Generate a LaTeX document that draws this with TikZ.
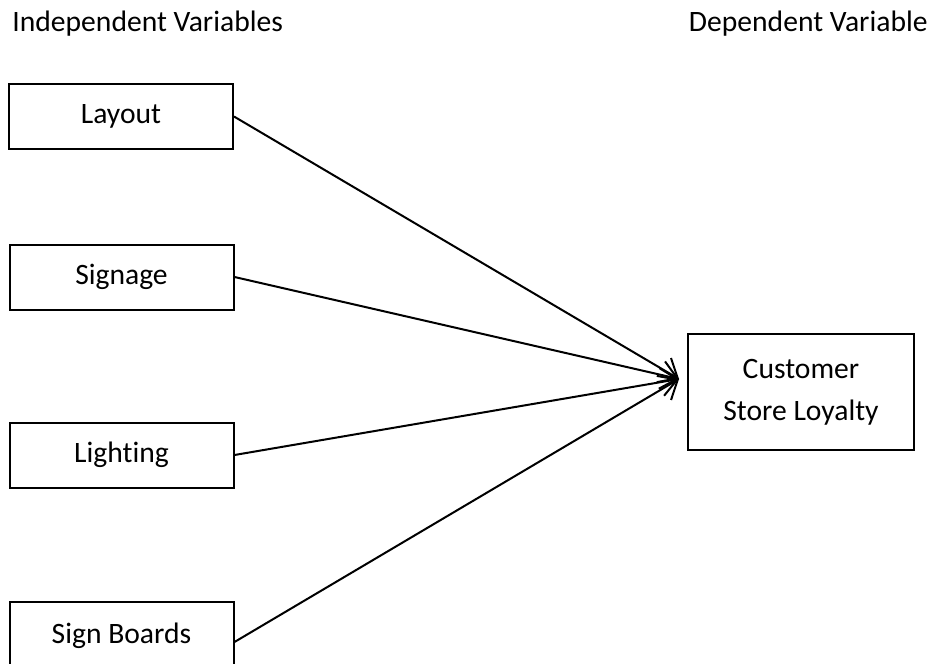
\documentclass[tikz,border=0pt]{standalone}
\usepackage{fontspec}
\setmainfont{Carlito}[Ligatures={NoCommon}]
\usetikzlibrary{arrows.meta}

\begin{document}
\begin{tikzpicture}[x=0.5pt, y=-0.5pt,
        varbox/.style={draw, line width=1pt, minimum width=112pt, minimum height=32.5pt, inner sep=0pt},
        link/.style={line width=1pt, -{Straight Barb[length=8pt, width=14pt, line width=1pt]}},
        font=\fontsize{14.8}{21}\selectfont]
    \useasboundingbox (0, 0) rectangle (939, 664);
        \node[anchor=base west, inner sep=0pt] (indep) at (12, 32) {Independent Variables};
        \node[anchor=base east, inner sep=0pt] (dep) at (928, 32) {Dependent Variable};

        \node[varbox] (layout) at (121, 116.5) {Layout};
        \node[varbox] (signage) at (121.5, 277) {Signage};
        \node[varbox] (lighting) at (121.5, 455) {Lighting};
        \node[varbox, minimum height=40pt] (boards) at (121.5, 642) {\raisebox{8.5pt}{Sign Boards}};

        \node[varbox, minimum width=113pt, minimum height=58pt, align=center] (loyalty) at (801, 392) {Customer\\Store Loyalty};
        \coordinate (tip) at (679, 379);

        \foreach \v in {layout, signage, lighting, boards} {
            \draw[link] (\v.east) -- (tip);
        }
    \end{tikzpicture}
\end{document}
